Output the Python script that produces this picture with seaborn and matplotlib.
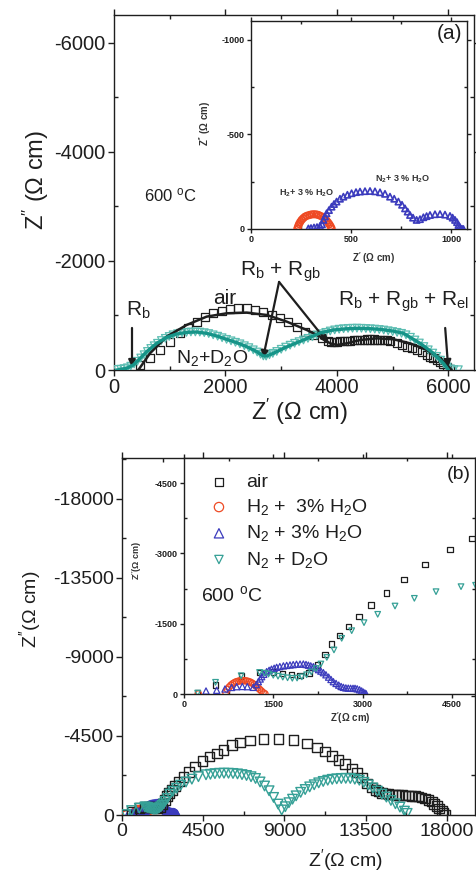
import matplotlib
matplotlib.use("Agg")
import matplotlib.pyplot as plt
import seaborn as sns
from matplotlib.ticker import MultipleLocator

# ---------------- data: panel (a) main, 600 C ----------------
A_AIR_X = [467, 646, 826, 1005, 1185, 1334, 1484, 1634, 1783, 1933, 2083, 2232, 2382, 2531,
           2681, 2831, 2980, 3130, 3280, 3429, 3579, 3728, 3848, 3900, 3950, 4000, 4060, 4120,
           4180, 4240, 4300, 4360, 4420, 4480, 4540, 4600, 4660, 4720, 4780, 4840, 4894, 4960,
           5075, 5160, 5254, 5340, 5434, 5520, 5613, 5680, 5733, 5800, 5853, 5910, 5973, 6030]
A_AIR_Y = [-92, -214, -367, -520, -673, -765, -887, -979, -1040, -1089, -1113, -1131, -1131, -1101,
           -1070, -1009, -948, -887, -795, -703, -642, -581, -538, -520, -515, -520, -525, -530,
           -535, -540, -545, -550, -555, -558, -560, -560, -560, -558, -555, -552, -550, -530,
           -489, -460, -428, -400, -367, -330, -275, -240, -214, -185, -153, -110, -61, -20]
A_AIR_FIT_X = [437, 646, 945, 1304, 1663, 2023, 2382, 2741, 3100, 3459, 3698, 3878, 3998, 4177,
               4417, 4716, 5015, 5314, 5613, 5853, 6002, 6060]
A_AIR_FIT_Y = [0, -306, -612, -826, -979, -1040, -1052, -1009, -887, -734, -612, -489, -459, -489,
               -550, -581, -563, -489, -367, -214, -61, 0]
A_D2O_X = [60, 120, 180, 240, 300, 360, 420, 480, 540, 600, 660, 720, 780, 850, 920, 990, 1060,
           1140, 1220, 1300, 1380, 1460, 1540, 1620, 1700, 1780, 1860, 1940, 2020, 2100, 2180,
           2260, 2340, 2420, 2500, 2570, 2630, 2680, 2730, 2790, 2850, 2920, 3000, 3080, 3160,
           3240, 3320, 3400, 3480, 3560, 3640, 3720, 3800, 3880, 3960, 4040, 4120, 4200, 4280,
           4360, 4440, 4520, 4600, 4680, 4760, 4840, 4920, 5000, 5080, 5160, 5240, 5320, 5400,
           5480, 5560, 5640, 5720, 5790, 5860, 5920, 5980, 6040, 6100, 6180]
A_D2O_Y = [-10, -15, -25, -40, -70, -110, -160, -220, -280, -340, -395, -445, -490, -540, -580,
           -615, -645, -665, -680, -690, -697, -698, -695, -685, -668, -645, -620, -592, -562,
           -535, -508, -480, -445, -410, -370, -330, -290, -258, -255, -280, -305, -340, -380,
           -420, -455, -490, -520, -550, -580, -610, -640, -665, -690, -715, -735, -748, -757,
           -763, -766, -767, -765, -761, -756, -750, -743, -733, -720, -705, -690, -672, -645,
           -600, -550, -495, -430, -370, -310, -250, -180, -115, -55, -20, -8, -5]
A_D2O_FIT_X = [48, 227, 347, 467, 586, 766, 945, 1125, 1304, 1484, 1663, 1843, 2023, 2202, 2382,
               2561, 2681, 2741, 2860, 3040, 3280, 3519, 3700, 3937, 4150, 4357, 4560, 4775, 5000,
               5194, 5494, 5733, 5912, 6002]
A_D2O_FIT_Y = [0, -31, -92, -214, -336, -489, -599, -660, -691, -697, -673, -624, -562, -501, -428,
               -336, -257, -257, -306, -398, -501, -600, -680, -734, -755, -765, -760, -746, -715,
               -673, -489, -306, -122, 0]

# ---------------- data: panel (a) inset ----------------
A_H2_X = [232, 236, 240, 246, 253, 261, 270, 280, 292, 303, 315, 327, 338, 350, 362, 370, 378,
          385, 392, 398, 403]
A_H2_Y = [-3, -15, -26, -37, -48, -57, -65, -70, -74, -77, -78, -77, -74, -68, -62, -54, -44,
          -35, -25, -14, -3]
A_N2_X = [287, 300, 315, 330, 345, 355, 362, 370, 378, 390, 403, 415, 428, 445, 462, 482, 503,
          525, 545, 570, 595, 620, 645, 670, 695, 716, 737, 755, 770, 783, 795, 810, 828, 845,
          862, 878, 895, 920, 945, 970, 995, 1008, 1020, 1030, 1037, 1043, 1048, 1055, 1062]
A_N2_Y = [-3, -5, -8, -10, -16, -25, -48, -66, -83, -100, -118, -132, -145, -160, -171, -181,
          -189, -195, -198, -200, -201, -199, -194, -186, -171, -160, -145, -128, -109, -92, -74,
          -60, -48, -52, -62, -68, -74, -78, -79, -76, -69, -60, -48, -36, -21, -12, -3, -1, 0]

# ---------------- data: panel (b) ----------------
B_AIR_X = [230, 530, 960, 1270, 1500, 1650, 1800, 1950, 2100, 2250, 2370, 2482, 2610, 2762, 2941,
           3143, 3400, 3697, 4050, 4471, 4840, 5250, 5617, 6080, 6541, 7095, 7834, 8666, 9497,
           10235, 10790, 11253, 11623, 11991, 12361, 12733, 13010, 13287, 13564, 13841, 14050,
           14209, 14400, 14600, 14763, 14950, 15150, 15317, 15500, 15700, 15870, 16050, 16250,
           16424, 16600, 16796, 16980, 17165, 17300, 17443, 17580, 17720, 17820, 17904]
B_AIR_Y = [-20, -190, -385, -465, -470, -440, -410, -400, -450, -620, -850, -1067, -1245, -1436,
           -1650, -1899, -2155, -2447, -2759, -3087, -3322, -3512, -3702, -3986, -4119, -4233,
           -4328, -4345, -4271, -4081, -3834, -3606, -3360, -3132, -2904, -2658, -2411, -2145,
           -1803, -1576, -1420, -1329, -1260, -1215, -1196, -1170, -1150, -1139, -1125, -1112,
           -1101, -1085, -1065, -1044, -1000, -949, -860, -759, -640, -512, -380, -247, -120, -5]
B_H2_X = [240, 700, 730, 760, 790, 820, 850, 880, 910, 940, 970, 1000, 1030, 1060, 1090, 1120,
          1150, 1180, 1210, 1240, 1270, 1300, 1330, 1360]
B_H2_Y = [-5, -40, -100, -150, -190, -220, -245, -262, -273, -280, -284, -285, -282, -276, -265,
          -250, -228, -200, -170, -135, -100, -65, -30, -5]
B_N2_X = [370, 550, 689, 800, 885, 980, 1064, 1165, 1215, 1249, 1280, 1305, 1340, 1389, 1430,
          1470, 1515, 1557, 1610, 1670, 1725, 1781, 1835, 1890, 1950, 2005, 2050, 2090, 2130,
          2174, 2215, 2260, 2300, 2342, 2385, 2430, 2470, 2510, 2555, 2600, 2640, 2678, 2720,
          2760, 2800, 2840, 2874, 2910, 2950, 2985, 3014, 3040, 3060]
B_N2_Y = [-64, -80, -107, -140, -156, -160, -156, -142, -200, -263, -320, -370, -420, -477, -505,
          -530, -550, -569, -585, -600, -610, -619, -627, -635, -638, -640, -630, -615, -600,
          -583, -555, -520, -488, -455, -410, -360, -310, -263, -225, -190, -160, -142, -130,
          -125, -122, -121, -121, -110, -90, -65, -40, -20, -5]
B_D2O_X = [230, 530, 960, 1270, 1350, 1420, 1500, 1580, 1660, 1740, 1820, 1900, 1980, 2060, 2140,
           2220, 2300, 2400, 2520, 2650, 2818, 3025, 3255, 3546, 3871, 4235, 4655, 4900, 5150,
           5400, 5650, 5900, 6150, 6400, 6650, 6900, 7150, 7400, 7650, 7900, 8150, 8400, 8650,
           8850, 9050, 9250, 9450, 9650, 9900, 10150, 10400, 10650, 10900, 11150, 11400, 11650,
           11900, 12150, 12400, 12650, 12900, 13150, 13400, 13650, 13900, 14150, 14400, 14650,
           14900, 15150, 15400, 15650, 15800]
B_D2O_Y = [-20, -250, -390, -460, -445, -425, -400, -380, -360, -345, -335, -340, -365, -410,
           -470, -545, -640, -780, -940, -1188, -1351, -1522, -1700, -1877, -2041, -2183, -2290,
           -2320, -2355, -2375, -2380, -2378, -2365, -2340, -2300, -2250, -2180, -2080, -1880,
           -1650, -1380, -1000, -620, -285, -470, -700, -900, -1090, -1290, -1450, -1600, -1720,
           -1830, -1910, -1980, -2030, -2060, -2080, -2088, -2080, -2040, -1980, -1860, -1710,
           -1540, -1360, -1190, -1020, -830, -640, -450, -220, -90]

LEGEND_LABELS = ["air", "H$_2$ +  3% H$_2$O", "N$_2$ + 3% H$_2$O", "N$_2$ + D$_2$O"]

for xs, ys in [(A_AIR_X, A_AIR_Y), (A_AIR_FIT_X, A_AIR_FIT_Y), (A_D2O_X, A_D2O_Y),
               (A_D2O_FIT_X, A_D2O_FIT_Y), (A_H2_X, A_H2_Y), (A_N2_X, A_N2_Y),
               (B_AIR_X, B_AIR_Y), (B_H2_X, B_H2_Y), (B_N2_X, B_N2_Y), (B_D2O_X, B_D2O_Y)]:
    assert len(xs) == len(ys), (len(xs), len(ys))

# ---------------- style ----------------
sns.set_theme(style="white")
plt.rcParams["font.family"] = ["Liberation Sans", "DejaVu Sans"]
plt.rcParams["mathtext.fontset"] = "custom"
plt.rcParams["mathtext.rm"] = "Liberation Sans"
plt.rcParams["mathtext.it"] = "Liberation Sans:italic"
plt.rcParams["mathtext.default"] = "regular"
plt.rcParams["axes.unicode_minus"] = False

BLACK = "#1e1e1e"
RED = "#ee4a24"
BLUE = "#3b3bbd"
TEAL = "#169488"
TEAL_M = "#5cbdb2"
TEAL_B = "#35a096"

W, H = 476, 873
fig = plt.figure(figsize=(W / 100, H / 100), dpi=100)


def px_axes(l, t, r, b):
    return fig.add_axes([l / W, 1 - b / H, (r - l) / W, (b - t) / H])


def ftext(x, y, s, **kw):
    kw.setdefault("ha", "center")
    kw.setdefault("va", "center")
    fig.text(x / W, 1 - y / H, s, **kw)


def hollow(ax, x, y, marker, s, color, lw=0.9, label=None, z=3):
    sns.scatterplot(x=x, y=y, ax=ax, marker=marker, s=s, facecolor="none",
                    edgecolor=color, linewidth=lw, label=label, legend=False, zorder=z)


def frame(ax, fs, major, minor, bold=False, lw=1.0, tl=4, pad=2):
    for sp in ax.spines.values():
        sp.set_visible(True)
        sp.set_color(BLACK)
        sp.set_linewidth(lw)
    ax.xaxis.set_major_locator(MultipleLocator(major[0]))
    ax.xaxis.set_minor_locator(MultipleLocator(minor[0]))
    ax.yaxis.set_major_locator(MultipleLocator(major[1]))
    ax.yaxis.set_minor_locator(MultipleLocator(minor[1]))
    ax.tick_params(which="major", direction="out", length=tl, width=lw, color=BLACK,
                   labelsize=fs, labelcolor=BLACK, pad=pad,
                   top=True, right=True, bottom=True, left=True)
    ax.tick_params(which="minor", direction="in", length=tl * 0.7, width=lw, color=BLACK,
                   top=True, right=True, bottom=True, left=True)
    if bold:
        for t in ax.get_xticklabels() + ax.get_yticklabels():
            t.set_fontweight("bold")
    ax.set_xlabel("")
    ax.set_ylabel("")
    ax.grid(False)


# ================= panel (a) main =================
axa = px_axes(114, 15, 474, 370)
sns.lineplot(x=A_AIR_FIT_X, y=A_AIR_FIT_Y, ax=axa, sort=False, estimator=None,
             color=BLACK, lw=1.8, zorder=4)
hollow(axa, A_AIR_X, A_AIR_Y, "s", 34, BLACK, lw=0.9)
hollow(axa, A_D2O_X, A_D2O_Y, "v", 30, TEAL_M, lw=0.9)
sns.lineplot(x=A_D2O_FIT_X, y=A_D2O_FIT_Y, ax=axa, sort=False, estimator=None,
             color=TEAL, lw=2.4, zorder=5)
axa.set_xlim(0, 6460)
axa.set_ylim(0, -6510)
frame(axa, 14.5, (2000, 2000), (1000, 1000), lw=1.0, tl=4, pad=2)

arr = dict(arrowstyle="-|>", color=BLACK, lw=1.6, mutation_scale=10, shrinkA=0, shrinkB=0)
axa.text(431, -1101, "R$_b$", fontsize=15, ha="center", va="center", color=BLACK)
axa.annotate("", xy=(323, -55), xytext=(323, -771), arrowprops=arr)
axa.text(2980, -1798, "R$_b$ + R$_{gb}$", fontsize=15, ha="center", va="center", color=BLACK)
axa.annotate("", xy=(2675, -220), xytext=(2962, -1615), arrowprops=arr)
axa.annotate("", xy=(3842, -495), xytext=(2962, -1615), arrowprops=arr)
axa.text(5189, -1248, "R$_b$ + R$_{gb}$ + R$_{el}$", fontsize=15, ha="center", va="center",
         color=BLACK)
axa.annotate("", xy=(5996, -55), xytext=(5943, -771), arrowprops=arr)
axa.text(1993, -1303, "air", fontsize=15, ha="center", va="center", color=BLACK)
axa.text(1760, -220, "N$_2$+D$_2$O", fontsize=14, ha="center", va="center", color=BLACK)
axa.text(1005, -3211, "600 $^o$C", fontsize=12, ha="center", va="center", color=BLACK)

ftext(36, 180, "Z$^{\\prime\\prime}$ (Ω cm)", rotation=90, fontsize=17, color=BLACK)
ftext(300, 412, "Z$^{\\prime}$ (Ω cm)", fontsize=17, color=BLACK)

# ================= panel (a) inset =================
axai = px_axes(251, 21, 467, 229)
hollow(axai, A_H2_X, A_H2_Y, "o", 22, RED, lw=1.2)
hollow(axai, A_N2_X, A_N2_Y, "^", 20, BLUE, lw=1.2)
axai.set_xlim(0, 1080)
axai.set_ylim(0, -1100)
frame(axai, 6.5, (500, 500), (250, 250), bold=True, lw=1.0, tl=3, pad=1.5)
axai.text(280, -190, "H$_2$+ 3 % H$_2$O", fontsize=6.5, fontweight="bold", ha="center",
          va="center", color="#333333")
axai.text(760, -265, "N$_2$+ 3 % H$_2$O", fontsize=6.5, fontweight="bold", ha="center",
          va="center", color="#333333")
axai.text(1055, -1035, "(a)", fontsize=15, ha="right", va="center", color=BLACK)
ftext(205, 123, "Z$^{\\prime\\prime}$ (Ω cm)", rotation=90, fontsize=7, fontweight="bold",
      color="#333333")
ftext(374, 258, "Z$^{\\prime}$ (Ω cm)", fontsize=7, fontweight="bold", color="#333333")

# ================= panel (b) main =================
axb = px_axes(122, 458, 475, 815)
hollow(axb, B_H2_X, B_H2_Y, "o", 40, RED, lw=1.0)
hollow(axb, B_N2_X, B_N2_Y, "^", 40, BLUE, lw=1.0)
hollow(axb, B_AIR_X, B_AIR_Y, "s", 48, BLACK, lw=1.0)
hollow(axb, B_D2O_X, B_D2O_Y, "v", 48, TEAL_B, lw=1.0)
axb.set_xlim(0, 19560)
axb.set_ylim(0, -20330)
frame(axb, 14, (4500, 4500), (2250, 2250), lw=1.0, tl=4, pad=2)
ftext(30, 609, "Z$^{\\prime\\prime}$(Ω cm)", rotation=90, fontsize=14, color=BLACK)
ftext(345, 860, "Z$^{\\prime}$(Ω cm)", fontsize=14, color=BLACK)

# ================= panel (b) inset =================
axbi = px_axes(184, 458, 475, 694)
hollow(axbi, B_AIR_X, B_AIR_Y, "s", 14, BLACK, lw=0.9, label=LEGEND_LABELS[0])
hollow(axbi, B_H2_X, B_H2_Y, "o", 20, RED, lw=0.9, label=LEGEND_LABELS[1])
hollow(axbi, B_N2_X, B_N2_Y, "^", 20, BLUE, lw=0.9, label=LEGEND_LABELS[2])
hollow(axbi, B_D2O_X, B_D2O_Y, "v", 16, TEAL_B, lw=0.9, label=LEGEND_LABELS[3])
axbi.set_xlim(0, 4890)
axbi.set_ylim(0, -5035)
frame(axbi, 6.5, (1500, 1500), (750, 750), bold=True, lw=1.0, tl=3, pad=1.5)
leg = axbi.legend(loc="upper left", bbox_to_anchor=(0.08, 0.935), frameon=False, fontsize=14,
                  handletextpad=0.8, labelspacing=0.32, markerscale=1.5, handlelength=1.2,
                  borderaxespad=0.0, borderpad=0.0)
for t in leg.get_texts():
    t.set_color(BLACK)
axbi.text(0.06, 0.42, "600 $^o$C", transform=axbi.transAxes, fontsize=14, ha="left",
          va="center", color=BLACK)
axbi.text(0.985, 0.965, "(b)", transform=axbi.transAxes, fontsize=14, ha="right", va="top",
          color=BLACK)
ftext(137, 560, "Z$^{\\prime\\prime}$(Ω cm)", rotation=90, fontsize=6.5, fontweight="bold",
      color="#333333")
ftext(350, 718, "Z$^{\\prime}$(Ω cm)", fontsize=7, fontweight="bold", color="#333333")

fig.savefig("out.png", dpi=100, facecolor="white")
